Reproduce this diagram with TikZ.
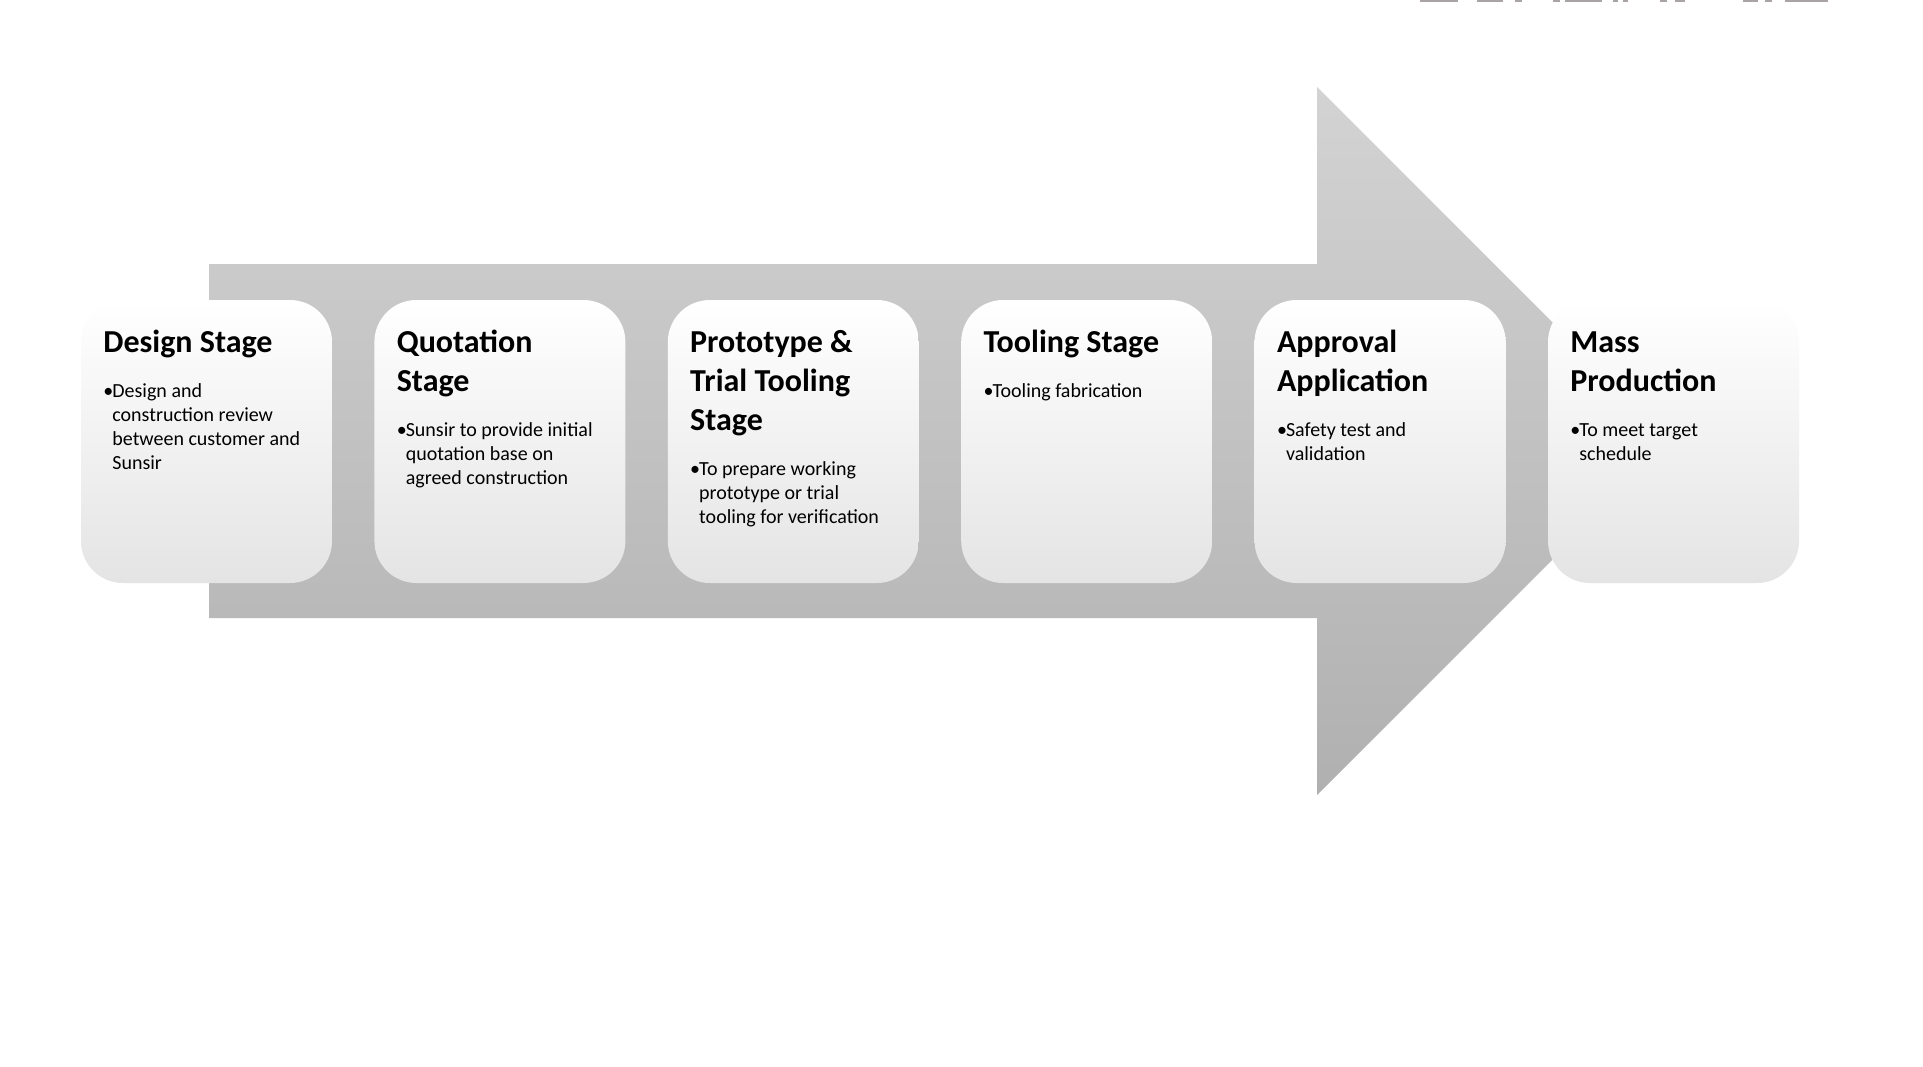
\documentclass[tikz,border=0pt]{standalone}
\usepackage{fontspec}
\setmainfont{Carlito}
\definecolor{arrowtop}{RGB}{211,211,211}
\definecolor{arrowbot}{RGB}{176,176,176}
\definecolor{boxbot}{RGB}{228,228,228}
\definecolor{topfrag}{RGB}{170,163,163}
\newcommand\stitle[1]{\parbox[t]{125pt}{#1}}
\newcommand\sbody[1]{\parbox[t]{120pt}{\hangindent=4.5pt\hangafter=1\noindent\makebox[4.5pt][l]{•}#1}}
\begin{document}
\begin{tikzpicture}[x=0.5pt,y=-0.5pt,
  stagebox/.style={rounded corners=21pt, top color=white, middle color=white, bottom color=boxbot,
    minimum width=125.5pt, minimum height=141.5pt, inner sep=0pt, draw=none},
  titletext/.style={anchor=base west, inner sep=0pt, font=\fontsize{16pt}{19.5pt}\selectfont\bfseries},
  bodytext/.style={anchor=base west, inner sep=0pt, font=\fontsize{10pt}{12pt}\selectfont}
]
\useasboundingbox (0,0) rectangle (1923,1066);
\fill[white] (0,0) rectangle (1923,1066);

% fragments at the top edge
\foreach \a/\b in {1420/1458,1477/1503,1515/1522,1553/1560,1565/1602,1613/1618,1623/1628,1660/1667,1675/1685,1743/1758,1765/1772,1785/1828}
  \fill[topfrag] (\a,0) rectangle (\b,2);

% big arrow
\shade[top color=arrowtop, bottom color=arrowbot]
  (209,264) -- (1317,264) -- (1317,87) -- (1671,441) -- (1317,795) -- (1317,618) -- (209,618) -- cycle;

% stage boxes
\node[stagebox] (b1) at (206.5,441.5) {};
\node[stagebox] (b2) at (499.9,441.5) {};
\node[stagebox] (b3) at (793.3,441.5) {};
\node[stagebox] (b4) at (1086.7,441.5) {};
\node[stagebox] (b5) at (1380.1,441.5) {};
\node[stagebox] (b6) at (1673.5,441.5) {};

% titles
\node[titletext] (t1) at (103,352) {\stitle{Design Stage}};
\node[titletext] (t2) at (396.4,352) {\stitle{Quotation\newline Stage}};
\node[titletext] (t3) at (689.8,352) {\stitle{Prototype \&\newline Trial Tooling\newline Stage}};
\node[titletext] (t4) at (983.2,352) {\stitle{Tooling Stage}};
\node[titletext] (t5) at (1276.6,352) {\stitle{Approval\newline Application}};
\node[titletext] (t6) at (1570,352) {\stitle{Mass\newline Production}};

% bullet texts
\node[bodytext] (d1) at (103,397) {\sbody{Design and\newline construction review\newline between customer and\newline Sunsir}};
\node[bodytext] (d2) at (396.4,436) {\sbody{Sunsir to provide initial\newline quotation base on\newline agreed construction}};
\node[bodytext] (d3) at (689.8,475) {\sbody{To prepare working\newline prototype or trial\newline tooling for verification}};
\node[bodytext] (d4) at (983.2,397) {\sbody{Tooling fabrication}};
\node[bodytext] (d5) at (1276.6,436) {\sbody{Safety test and\newline validation}};
\node[bodytext] (d6) at (1570,436) {\sbody{To meet target\newline schedule}};
\end{tikzpicture}
\end{document}
